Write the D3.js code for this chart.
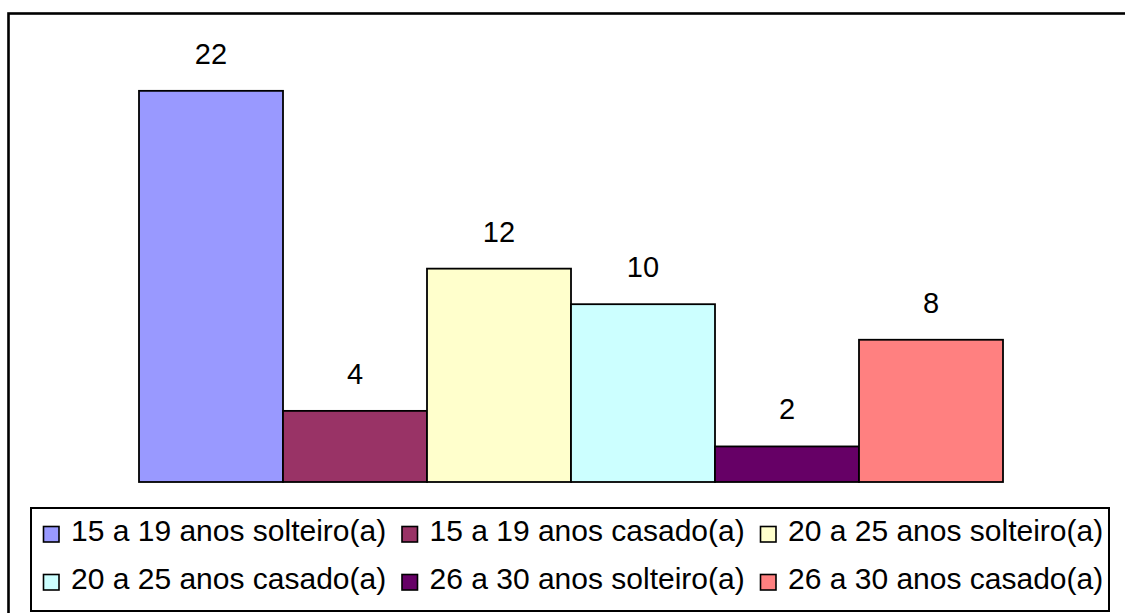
<!DOCTYPE html>
<html>
<head>
<meta charset="utf-8">
<script src="https://cdn.jsdelivr.net/npm/d3@7"></script>
<style>
  html, body { margin: 0; padding: 0; background: #fff; }
  svg { display: block; }
  text { font-family: "Liberation Sans", Arial, sans-serif; fill: #000; }
</style>
</head>
<body>
<svg id="chart" width="1125" height="613"></svg>
<script>
// ---- data ----
const seriesNames = [
  "15 a 19 anos solteiro(a)",
  "15 a 19 anos casado(a)",
  "20 a 25 anos solteiro(a)",
  "20 a 25 anos casado(a)",
  "26 a 30 anos solteiro(a)",
  "26 a 30 anos casado(a)"
];
const seriesValues = [22, 4, 12, 10, 2, 8];
const seriesColors = ["#9999FF", "#993366", "#FFFFCC", "#CCFFFF", "#660066", "#FF8080"];
const yDomain = [0, 25];

// ---- layout ----
const W = 1125, H = 613;
const svg = d3.select("#chart");

// outer chart border (extends past right/bottom edge)
svg.append("rect")
  .attr("x", 8.5).attr("y", 13.5)
  .attr("width", W + 20).attr("height", H + 20)
  .attr("fill", "#fff")
  .attr("stroke", "#000").attr("stroke-width", 2.6);

const x = d3.scaleBand().domain(seriesNames).range([139, 1003]).padding(0);
const y = d3.scaleLinear().domain(yDomain).range([482, 37.5]);

const data = seriesNames.map((n, i) => ({ name: n, value: seriesValues[i], color: seriesColors[i] }));

svg.append("g").selectAll("rect")
  .data(data).join("rect")
  .attr("x", d => x(d.name))
  .attr("y", d => y(d.value))
  .attr("width", x.bandwidth())
  .attr("height", d => y(0) - y(d.value))
  .attr("fill", d => d.color)
  .attr("stroke", "#000").attr("stroke-width", 1.8);

svg.append("g").selectAll("text")
  .data(data).join("text")
  .attr("x", d => x(d.name) + x.bandwidth() / 2)
  .attr("y", d => y(d.value) - 27)
  .attr("text-anchor", "middle")
  .attr("font-size", 29)
  .text(d => d.value);

// ---- legend ----
const legend = svg.append("g");
legend.append("rect")
  .attr("x", 31).attr("y", 508)
  .attr("width", 1078).attr("height", 103)
  .attr("fill", "#fff")
  .attr("stroke", "#000").attr("stroke-width", 2);

const colX = d3.scalePoint().domain([0, 1, 2]).range([43, 760]);
const rowY = d3.scalePoint().domain([0, 1]).range([541, 589]);

const items = legend.selectAll("g.item")
  .data(data).join("g")
  .attr("class", "item")
  .attr("transform", (d, i) => `translate(${colX(i % 3)},${rowY(Math.floor(i / 3))})`);

items.append("rect")
  .attr("x", 0.5).attr("y", -14.5)
  .attr("width", 15.5).attr("height", 15.5)
  .attr("fill", d => d.color)
  .attr("stroke", "#000").attr("stroke-width", 1.6);

items.append("text")
  .attr("x", 28).attr("y", 0)
  .attr("font-size", 30)
  .text(d => d.name);
</script>
</body>
</html>
